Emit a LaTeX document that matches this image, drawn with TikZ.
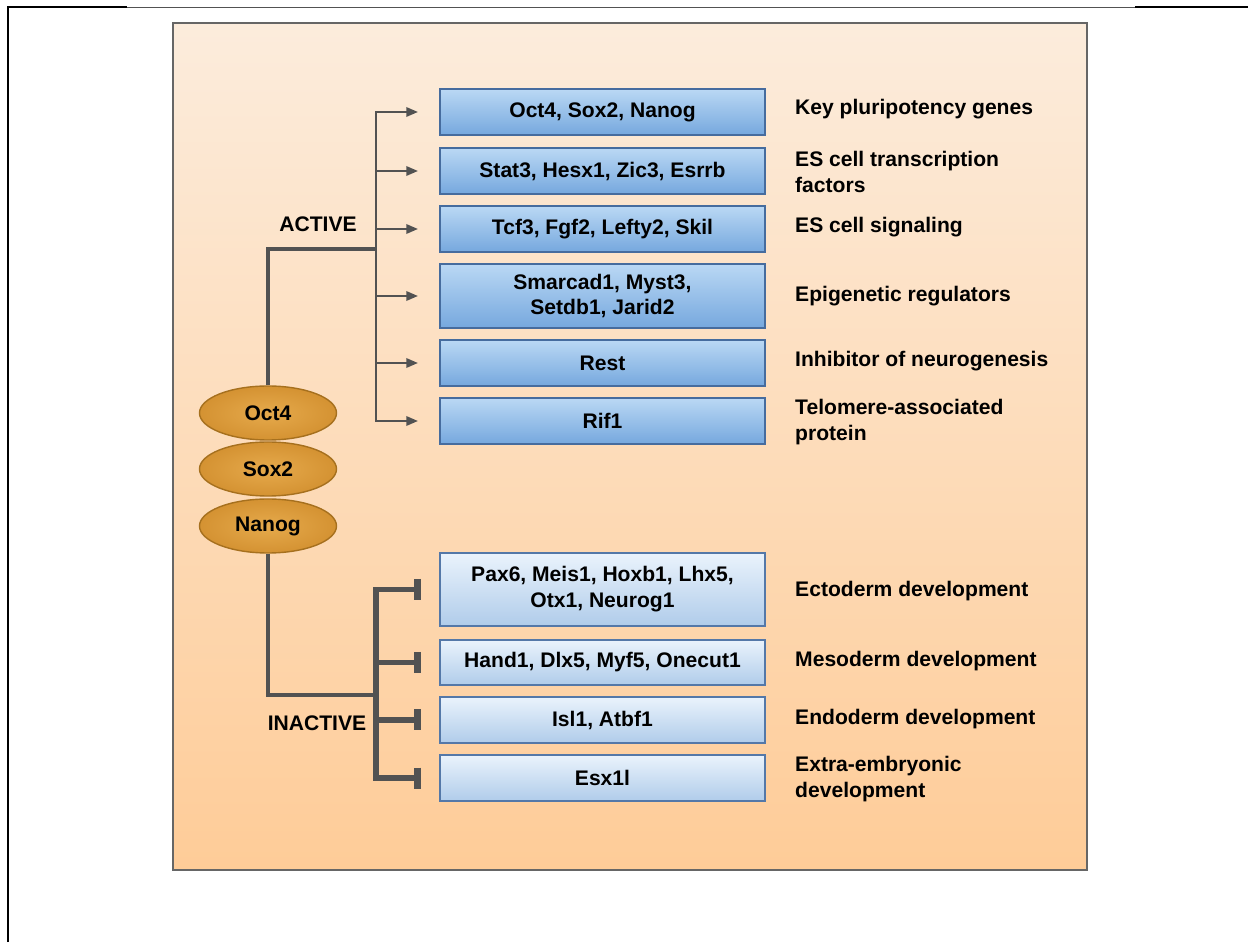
\documentclass[tikz,border=0pt]{standalone}
\usepackage{fontspec}
\setmainfont{Liberation Sans}
\usetikzlibrary{arrows.meta,shapes.geometric}

\definecolor{panelTop}{RGB}{252,236,220}
\definecolor{panelBot}{RGB}{254,204,152}
\definecolor{actTop}{RGB}{186,216,244}
\definecolor{actBot}{RGB}{118,168,222}
\definecolor{actLine}{RGB}{70,108,158}
\definecolor{inaTop}{RGB}{234,243,252}
\definecolor{inaBot}{RGB}{176,204,234}
\definecolor{inaLine}{RGB}{84,120,168}
\definecolor{tfIn}{RGB}{230,170,76}
\definecolor{tfOut}{RGB}{212,146,50}
\definecolor{tfLine}{RGB}{166,112,30}
\definecolor{wire}{RGB}{82,82,82}

\begin{document}
\begin{tikzpicture}[font=\fontsize{12}{14.7}\selectfont\bfseries]
		\useasboundingbox (0,0) rectangle (24.96,18.84);
		\draw[line width=1.2pt] (0.16,0) -- (0.16,18.70) -- (2.54,18.70);
		\draw[wire, line width=0.5pt] (2.54,18.70) -- (22.7,18.70);
		\draw[line width=1.2pt] (22.7,18.70) -- (24.96,18.70);
		\draw[gray!80!black, line width=1.6pt, top color=panelTop, bottom color=panelBot] (3.46,1.44) rectangle (21.74,18.38);
		\begin{scope}[every node/.style={ellipse,draw=tfLine,line width=0.8pt,inner color=tfIn,outer color=tfOut,minimum width=2.74cm,minimum height=1.08cm}]
			\node (Oct4) at (5.36,10.58) {Oct4};
			\node (Sox2) at (5.36,9.46) {Sox2};
			\node (Nanog) at (5.36,8.32) {Nanog};
		\end{scope}
		\begin{scope}[every node/.style={rectangle,draw=actLine,line width=0.8pt,top color=actTop,bottom color=actBot,minimum width=6.5cm,minimum height=0.92cm,inner sep=0pt,align=center}]
			\node (A1) at (12.05,16.6) {Oct4, Sox2, Nanog};
			\node (A2) at (12.05,15.42) {Stat3, Hesx1, Zic3, Esrrb};
			\node (A3) at (12.05,14.26) {Tcf3, Fgf2, Lefty2, Skil};
			\node[minimum height=1.28cm] (A4) at (12.05,12.92) {Smarcad1, Myst3,\\Setdb1, Jarid2};
			\node (A5) at (12.05,11.58) {Rest};
			\node (A6) at (12.05,10.42) {Rif1};
		\end{scope}
		\begin{scope}[every node/.style={rectangle,draw=inaLine,line width=0.8pt,top color=inaTop,bottom color=inaBot,minimum width=6.5cm,minimum height=0.92cm,inner sep=0pt,align=center}]
			\node[minimum height=1.46cm] (I1) at (12.05,7.05) {Pax6, Meis1, Hoxb1, Lhx5,\\Otx1, Neurog1};
			\node[minimum height=0.9cm] (I2) at (12.05,5.59) {Hand1, Dlx5, Myf5, Onecut1};
			\node (I3) at (12.05,4.44) {Isl1, Atbf1};
			\node (I4) at (12.05,3.28) {Esx1l};
		\end{scope}
		\begin{scope}[every node/.style={anchor=west,align=left}]
			\node (L1) at (15.78,16.66) {Key pluripotency genes};
			\node (L2) at (15.78,15.4) {ES cell transcription\\factors};
			\node (L3) at (15.78,14.3) {ES cell signaling};
			\node (L4) at (15.78,12.92) {Epigenetic regulators};
			\node (L5) at (15.78,11.62) {Inhibitor of neurogenesis};
			\node (L6) at (15.78,10.4) {Telomere-associated\\protein};
			\node (L7) at (15.78,7.02) {Ectoderm development};
			\node (L8) at (15.78,5.62) {Mesoderm development};
			\node (L9) at (15.78,4.46) {Endoderm development};
			\node (L10) at (15.78,3.26) {Extra-embryonic\\development};
		\end{scope}
		\node (active) at (6.36,14.36) {ACTIVE};
		\node (inactive) at (6.34,4.38) {INACTIVE};
		\coordinate (up) at (7.52,13.86);
		\coordinate (down) at (7.52,4.94);
		\begin{scope}[wire, line width=2.8pt]
			\draw (Oct4.north) |- (up);
			\draw (Nanog.south) |- (down);
		\end{scope}
		\begin{scope}[wire, line width=1.7pt, -{Triangle[length=0.24cm,width=0.18cm]}, shorten >=0.42cm]
			\foreach \b in {A1,A2,A3,A4,A5,A6}
				\draw (up) |- (\b.west);
		\end{scope}
		\begin{scope}[wire, line width=3pt, -{Bar[width=0.42cm,line width=0.14cm]}, shorten >=0.36cm]
			\foreach \b in {I1,I2,I3,I4}
				\draw (down) |- (\b.west);
		\end{scope}
	\end{tikzpicture}
\end{document}
